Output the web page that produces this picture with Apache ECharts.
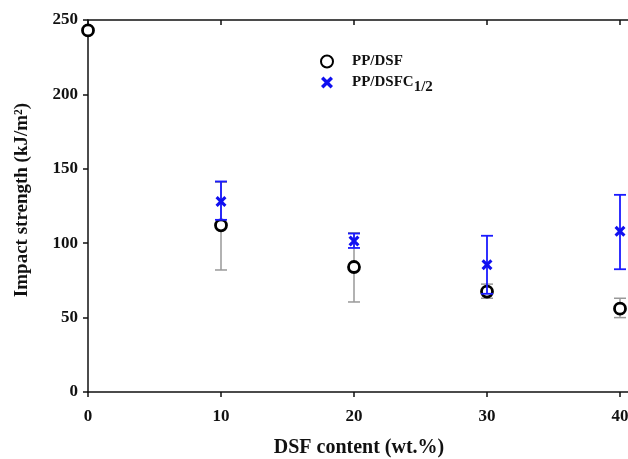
<!DOCTYPE html>
<html>
<head>
<meta charset="utf-8">
<script src="https://cdn.jsdelivr.net/npm/echarts@6/dist/echarts.min.js"></script>
<style>
html, body { margin: 0; padding: 0; background: #fff; }
#chart { width: 628px; height: 459px; }
</style>
</head>
<body>
<div id="chart"></div>
<script>
// 数据
var xValues = [0, 10, 20, 30, 40];
// PP/DSF
var dsfMean = [243, 112, 84, 67.5, 56];
var dsfLow = [243, 82, 60.5, 63, 50];
var dsfHigh = [243, 141, 107, 72.5, 63];
// PP/DSFC1/2
var xC = [10, 20, 30, 40];
var dscMean = [128, 101.5, 85.5, 108];
var dscLow = [115.7, 96.8, 66, 82.5];
var dscHigh = [141.5, 106.5, 105, 132.5];

var fontFamily = '"Liberation Serif", "DejaVu Serif", serif';
var crossPath = 'path://M2,0 L5,3 L8,0 L10,2 L7,5 L10,8 L8,10 L5,7 L2,10 L0,8 L3,5 L0,2 Z';

function pairs(xs, ys) {
	var out = [];
	for (var i = 0; i < xs.length; i++) {
		out.push([xs[i], ys[i]]);
	}
	return out;
}
function errData(xs, lo, hi) {
	var out = [];
	for (var i = 0; i < xs.length; i++) {
		if (lo[i] !== hi[i]) out.push([xs[i], lo[i], hi[i]]);
	}
	return out;
}
// 误差线
function errRender(color, width) {
	return function(params, api) {
		var x = api.value(0);
		var lo = api.coord([x, api.value(1)]);
		var hi = api.coord([x, api.value(2)]);
		var cap = 6;
		var style = { stroke: color, lineWidth: width };
		return {
			type: 'group',
			children: [
				{ type: 'line', shape: { x1: lo[0], y1: lo[1], x2: hi[0], y2: hi[1] }, style: style },
				{ type: 'line', shape: { x1: lo[0] - cap, y1: lo[1], x2: lo[0] + cap, y2: lo[1] }, style: style },
				{ type: 'line', shape: { x1: hi[0] - cap, y1: hi[1], x2: hi[0] + cap, y2: hi[1] }, style: style }
			]
		};
	};
}

var chart = echarts.init(document.getElementById('chart'));
var option = {
	animation: false,
	backgroundColor: '#fff',
	grid: {
		left: 88,
		top: 20,
		width: 665,
		height: 372,
		containLabel: false,
		outerBoundsMode: 'none'
	},
	legend: {
		orient: 'vertical',
		left: 315,
		top: 49,
		itemGap: 6,
		itemWidth: 12,
		itemHeight: 12,
		data: [{
			name: 'PP/DSF',
			icon: 'circle'
		}, {
			name: 'PP/DSFC1/2',
			icon: crossPath,
			itemStyle: { color: '#1010f0', borderWidth: 0 }
		}],
		formatter: function(name) {
			if (name === 'PP/DSFC1/2') return 'PP/DSFC{sub|1/2}';
			return name;
		},
		textStyle: {
			fontFamily: fontFamily,
			fontWeight: 'bold',
			fontSize: 15,
			color: '#111',
			padding: [0, 0, 0, 14],
			rich: {
				sub: {
					fontFamily: fontFamily,
					fontWeight: 'bold',
					fontSize: 15,
					color: '#111',
					padding: [9, 0, 0, 0]
				}
			}
		}
	},
	xAxis: [{
		type: 'value',
		min: 0,
		max: 50,
		interval: 10,
		position: 'bottom',
		name: 'DSF content (wt.%)',
		nameLocation: 'middle',
		nameGap: 46,
		nameTextStyle: {
			fontFamily: fontFamily,
			fontWeight: 'bold',
			fontSize: 20,
			color: '#111',
			padding: [0, 123, 0, 0]
		},
		axisLine: { onZero: false, lineStyle: { color: '#111', width: 1.5 } },
		axisTick: { inside: false, length: 5, lineStyle: { color: '#111', width: 1.5 } },
		axisLabel: { margin: 16, fontFamily: fontFamily, fontWeight: 'bold', fontSize: 17, color: '#111' },
		splitLine: { show: false }
	}, {
		type: 'value',
		min: 0,
		max: 50,
		interval: 10,
		position: 'top',
		axisLine: { onZero: false, lineStyle: { color: '#111', width: 1.5 } },
		axisTick: { inside: true, length: 5, lineStyle: { color: '#111', width: 1.5 } },
		axisLabel: { show: false },
		splitLine: { show: false }
	}],
	yAxis: {
		type: 'value',
		min: 0,
		max: 250,
		interval: 50,
		name: 'Impact strength (kJ/m²)',
		nameLocation: 'middle',
		nameGap: 56,
		nameTextStyle: {
			fontFamily: fontFamily,
			fontWeight: 'bold',
			fontSize: 19,
			color: '#111',
			padding: [0, 0, 0, 12]
		},
		axisLine: { show: true, lineStyle: { color: '#111', width: 1.5 } },
		axisTick: { show: true, length: 5, lineStyle: { color: '#111', width: 1.5 } },
		axisLabel: { margin: 10, fontFamily: fontFamily, fontWeight: 'bold', fontSize: 17, color: '#111' },
		splitLine: { show: false }
	},
	series: [{
		name: 'dsfErr',
		type: 'custom',
		renderItem: errRender('#999', 1.5),
		data: errData(xValues, dsfLow, dsfHigh),
		z: 1
	}, {
		name: 'PP/DSF',
		type: 'scatter',
		symbol: 'circle',
		symbolSize: 11,
		itemStyle: { color: '#fff', borderColor: '#000', borderWidth: 2.8, opacity: 1 },
		data: pairs(xValues, dsfMean),
		z: 2
	}, {
		name: 'dscErr',
		type: 'custom',
		renderItem: errRender('#1a1aff', 1.8),
		data: errData(xC, dscLow, dscHigh),
		z: 3
	}, {
		name: 'PP/DSFC1/2',
		type: 'scatter',
		symbol: crossPath,
		symbolSize: 11,
		itemStyle: { color: '#1010f0', opacity: 1 },
		data: pairs(xC, dscMean),
		z: 4
	}]
};
chart.setOption(option);
</script>
</body>
</html>
